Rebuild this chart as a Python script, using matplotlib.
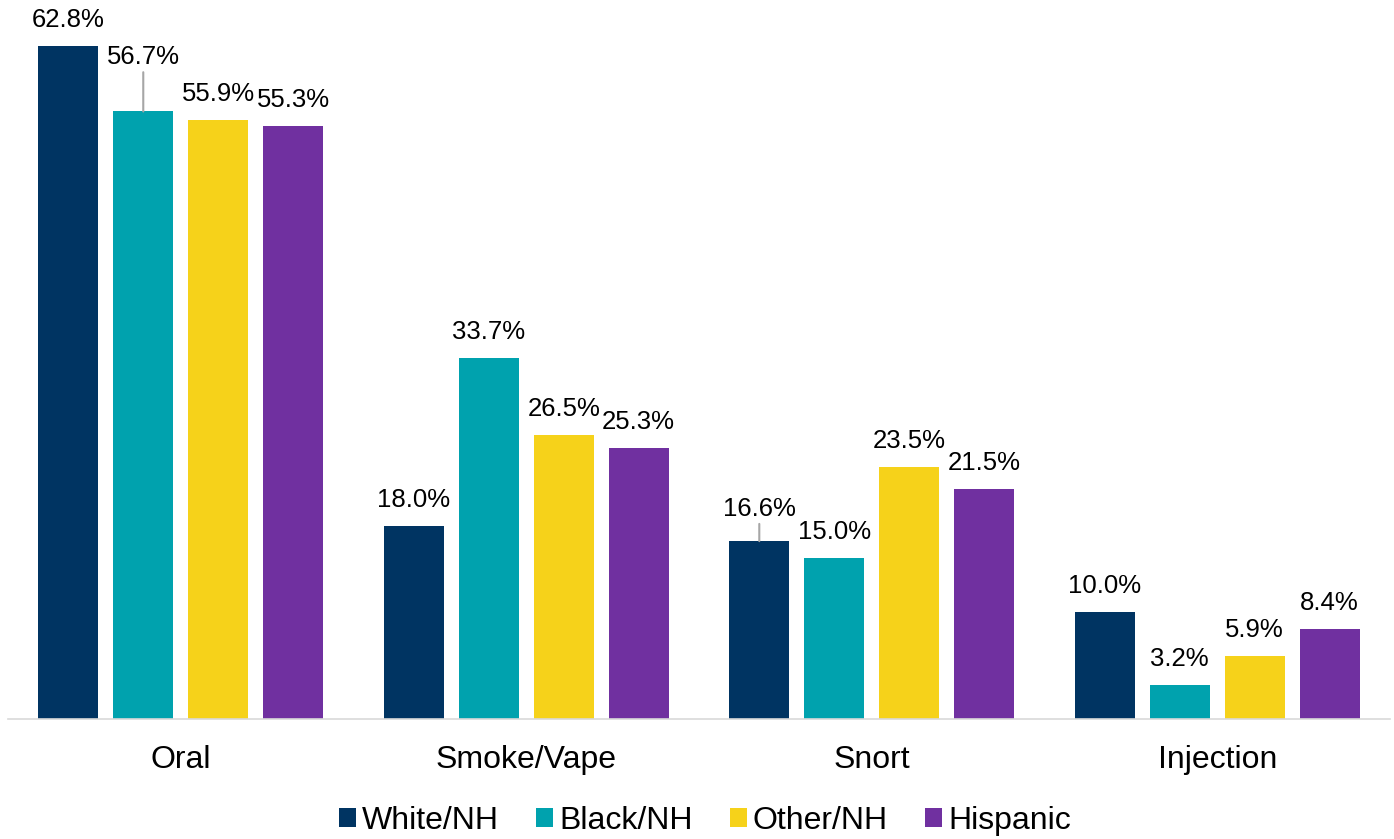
import matplotlib
matplotlib.use('Agg')
import matplotlib.pyplot as plt
import numpy as np

plt.rcParams['font.family'] = ['Liberation Sans', 'DejaVu Sans']

routes = ['Oral', 'Smoke/Vape', 'Snort', 'Injection']
groups = ['White/NH', 'Black/NH', 'Other/NH', 'Hispanic']
white_nh = [62.8, 18.0, 16.6, 10.0]
black_nh = [56.7, 33.7, 15.0, 3.2]
other_nh = [55.9, 26.5, 23.5, 5.9]
hispanic = [55.3, 25.3, 21.5, 8.4]
series = [white_nh, black_nh, other_nh, hispanic]
colors = ['#003462', '#00A2AE', '#F6D21A', '#7030A0']

fig = plt.figure(figsize=(13.94, 8.39), dpi=100)
ax = fig.add_axes([8 / 1394, 120 / 839, 1382 / 1394, 719 / 839])

x = np.arange(len(routes))
step = 0.217
width = 0.174

# labels that Excel pushed up, with a leader line (px above bar top)
moved = {(1, 0): 54, (0, 2): 32}

for i, (vals, c) in enumerate(zip(series, colors)):
    xs = x + (i - 1.5) * step
    ax.bar(xs, vals, width, color=c, label=groups[i], zorder=2)
    for j, v in enumerate(vals):
        off = moved.get((i, j), 26)
        if (i, j) in moved:
            ax.annotate(f'{v:.1f}%', xy=(xs[j], v), xytext=(0, off * 0.72),
                        textcoords='offset points', ha='center', va='center',
                        fontsize=18.5,
                        arrowprops=dict(arrowstyle='-', color='#a6a6a6', lw=1.5,
                                        shrinkA=0, shrinkB=0))
        else:
            ax.annotate(f'{v:.1f}%', xy=(xs[j], v), xytext=(0, off * 0.72),
                        textcoords='offset points', ha='center', va='center',
                        fontsize=18.5)

ax.set_xlim(-0.5, 3.5)
ax.set_ylim(0, 67.1)
ax.set_xticks(x)
ax.set_xticklabels(routes, fontsize=23)
ax.tick_params(axis='x', length=0, pad=19)
ax.set_yticks([])
for s in ['top', 'right', 'left']:
    ax.spines[s].set_visible(False)
ax.spines['bottom'].set_color('#d9d9d9')
ax.spines['bottom'].set_linewidth(1.2)

fig.legend(loc='center', bbox_to_anchor=(0.5057, 18 / 839), ncol=4, frameon=False,
           fontsize=23, handlelength=0.53, handleheight=0.53, handletextpad=0.19,
           columnspacing=1.16, borderaxespad=0)

fig.savefig('out.png', dpi=100)
